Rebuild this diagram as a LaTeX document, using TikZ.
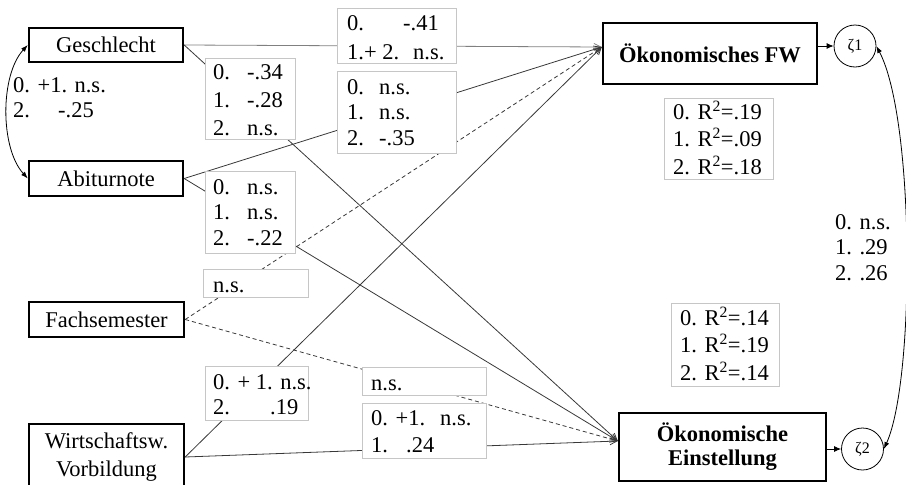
\documentclass[tikz,border=0pt]{standalone}
\usepackage{fontspec}
\setmainfont{Liberation Serif}
\usetikzlibrary{arrows.meta}
\newcommand\cc[2]{\makebox[#1pt][l]{#2}}
\begin{document}
\begin{tikzpicture}[x=1pt,y=-1pt,
  var/.style={draw, line width=2.4pt, inner sep=0pt, align=center, font=\fontsize{22.5}{28}\selectfont},
  bvar/.style={var, font=\bfseries\fontsize{22.5}{24}\selectfont},
  zeta/.style={circle, draw, line width=0.8pt, minimum size=42pt, inner sep=0pt, font=\fontsize{16}{18}\selectfont},
  edge/.style={line width=0.8pt, draw=black!78, -{Straight Barb[length=7pt,width=7pt]}},
  dedge/.style={edge, dash pattern=on 4pt off 3pt},
  lbox/.style={draw=gray!45, line width=0.9pt, fill=white, inner sep=0pt, anchor=north west},
  ltext/.style={anchor=base west, inner sep=0pt, font=\fontsize{22.5}{26}\selectfont},
  dbl/.style={line width=0.8pt, {Latex[length=7pt,width=5pt]}-{Latex[length=7pt,width=5pt]}},
  tip/.style={line width=0.8pt, -{Latex[length=7pt,width=6pt]}}
]
\useasboundingbox (0,0) rectangle (906,485);

% variable nodes
\node[var, minimum width=154pt, minimum height=34pt] (ges) at (106,45) {Geschlecht};
\node[var, minimum width=154pt, minimum height=35pt] (abi) at (106,178.5) {Abiturnote};
\node[var, minimum width=155pt, minimum height=35pt] (fach) at (106.5,319.5) {Fachsemester};
\node[var, minimum width=155pt, minimum height=66pt] (wirt) at (106.5,457) {Wirtschaftsw.\\Vorbildung};
\node[bvar, minimum width=214pt, minimum height=61pt] (fw) at (710,53.5) {Ökonomisches FW};
\node[bvar, minimum width=207pt, minimum height=68pt] (ein) at (722.5,447) {Ökonomische\\Einstellung};
\node[zeta] (z1) at (855,46) {ζ1};
\node[zeta] (z2) at (862.5,449) {ζ2};

\coordinate (fwin) at (fw.west |- 0,47);
\coordinate (einin) at (ein.west |- 0,441);

% paths
\draw[edge, draw=gray] (ges.east) -- (fwin);
\draw[edge] (ges.east) -- (einin);
\draw[edge] (abi.east) -- (fwin);
\draw[edge] (abi.east) -- (einin);
\draw[dedge] (fach.east) -- (fwin);
\draw[dedge] (fach.east) -- (einin);
\draw[edge] (wirt.east) -- (fwin);
\draw[edge] (wirt.east) -- (einin);

\draw[tip] (fw.east |- z1) -- (z1);
\draw[tip] (ein.east |- z2) -- (z2);

\draw[dbl] (ges.west) .. controls (0,75) and (0,148) .. (abi.west);
\draw[dbl] (z1.east) .. controls (915,120) and (915,380) .. (z2.east);

% label boxes
\node[lbox, minimum width=90pt, minimum height=81pt] (bA) at (205,58) {};
\node[ltext, font=\fontsize{22.5}{28}\selectfont] (tA) at (213,79) {\begin{tabular}[t]{@{}l@{}}\cc{34}{0.}-.34\\\cc{34}{1.}-.28\\\cc{34}{2.}n.s.\end{tabular}};

\node[lbox, minimum width=119pt, minimum height=55pt] (bT) at (337,8) {};
\node[ltext, font=\fontsize{22.5}{29}\selectfont] (tT) at (347,30) {\begin{tabular}[t]{@{}l@{}}\cc{56}{0.}-.41\\\cc{66}{1.+ 2.}n.s.\end{tabular}};

\node[lbox, minimum width=119pt, minimum height=82pt] (b3) at (337,71) {};
\node[ltext, font=\fontsize{22.5}{25.5}\selectfont] (t3) at (347,94) {\begin{tabular}[t]{@{}l@{}}\cc{32}{0.}n.s.\\\cc{32}{1.}n.s.\\\cc{32}{2.}-.35\end{tabular}};

\node[lbox, minimum width=90pt, minimum height=82pt] (b4) at (205,171) {};
\node[ltext, font=\fontsize{22.5}{25.5}\selectfont] (t4) at (213,194) {\begin{tabular}[t]{@{}l@{}}\cc{34}{0.}n.s.\\\cc{34}{1.}n.s.\\\cc{34}{2.}-.22\end{tabular}};

\node[lbox, minimum width=109pt, minimum height=81pt] (bR1) at (664,98) {};
\node[ltext, font=\fontsize{22.5}{27.5}\selectfont] (tR1) at (673,119) {\begin{tabular}[t]{@{}l@{}}0. R\textsuperscript{2}=.19\\1. R\textsuperscript{2}=.09\\2. R\textsuperscript{2}=.18\end{tabular}};

\node[lbox, minimum width=108pt, minimum height=83pt] (bR2) at (671,303) {};
\node[ltext, font=\fontsize{22.5}{27.5}\selectfont] (tR2) at (680,325) {\begin{tabular}[t]{@{}l@{}}0. R\textsuperscript{2}=.14\\1. R\textsuperscript{2}=.19\\2. R\textsuperscript{2}=.14\end{tabular}};

\node[lbox, minimum width=105pt, minimum height=28pt] (bN1) at (203,269) {};
\node[ltext] (tN1) at (213,292) {n.s.};

\node[lbox, minimum width=103pt, minimum height=54pt] (b19) at (205,366) {};
\node[ltext, font=\fontsize{22.5}{25}\selectfont] (t19) at (213,389) {\begin{tabular}[t]{@{}l@{}}0. + 1. n.s.\\\cc{57}{2.}.19\end{tabular}};

\node[lbox, minimum width=124pt, minimum height=28pt] (bN2) at (362,367) {};
\node[ltext] (tN2) at (371,390) {n.s.};

\node[lbox, minimum width=124pt, minimum height=55pt] (b24) at (362,403) {};
\node[ltext, font=\fontsize{22.5}{27}\selectfont] (t24) at (371,425) {\begin{tabular}[t]{@{}l@{}}\cc{69}{0. +1.}n.s.\\\cc{35}{1.}.24\end{tabular}};

% free labels
\node[ltext, font=\fontsize{22.5}{25}\selectfont] (tL) at (13,92) {\begin{tabular}[t]{@{}l@{}}0. +1. n.s.\\\cc{45}{2.}-.25\end{tabular}};
\node[ltext, font=\fontsize{22.5}{25.5}\selectfont] (tRr) at (835,229) {\begin{tabular}[t]{@{}l@{}}0. n.s.\\1. .29\\2. .26\end{tabular}};
\end{tikzpicture}
\end{document}
